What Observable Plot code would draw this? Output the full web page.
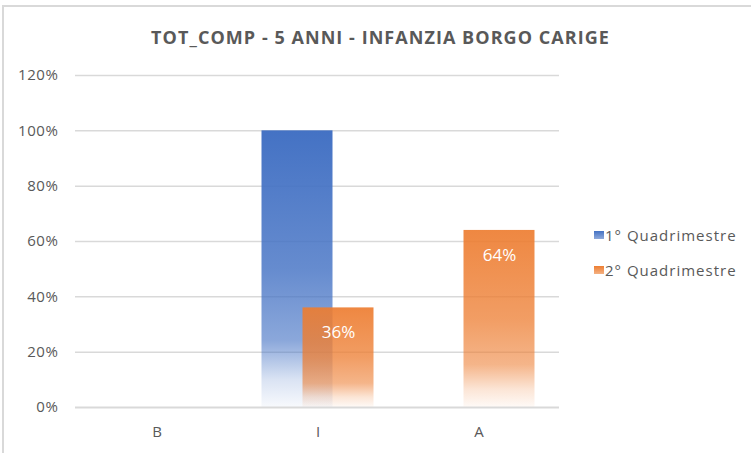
<!DOCTYPE html>
<html>
<head>
<meta charset="utf-8">
<script src="https://cdn.jsdelivr.net/npm/d3@7"></script>
<script src="https://cdn.jsdelivr.net/npm/@observablehq/plot@0.6"></script>
<style>
  html, body { margin: 0; padding: 0; background: #fff; }
  #wrap { position: relative; width: 751px; height: 453px; overflow: hidden; font-family: "Open Sans", sans-serif; }
  #frame { position: absolute; left: 2px; top: 5px; width: 800px; height: 500px; border-left: 2px solid #d9d9d9; border-top: 2px solid #d9d9d9; box-sizing: border-box; }
  #title { position: absolute; left: 0; width: 761px; top: 25px; text-align: center; font-weight: bold; font-size: 18px; color: #595959; letter-spacing: 1.05px; }
  #chart { position: absolute; left: 0; top: 0; }
  #chart svg g[aria-label="y-axis tick label"] text { font-size: 15px; letter-spacing: 0.6px; }
  #chart svg g[aria-label="x-axis tick label"] text { font-size: 15px; }
  .leg { position: absolute; left: 594px; font-size: 15px; color: #595959; letter-spacing: 1px; display: flex; align-items: center; }
  .sw { width: 10px; height: 8px; margin-right: 1px; }
</style>
</head>
<body>
<div id="wrap">
  <div id="frame"></div>
  <div id="chart"></div>
  <div id="title">TOT_COMP - 5 ANNI - INFANZIA BORGO CARIGE</div>
  <div class="leg" id="leg1" style="top:225px"><div class="sw" style="background:linear-gradient(#4472C4,#8EA9DB)"></div><span id="l1"></span></div>
  <div class="leg" id="leg2" style="top:260px"><div class="sw" style="background:linear-gradient(#ED7D31,#F4B183)"></div><span id="l2"></span></div>
</div>
<script>
const categories = ["B", "I", "A"];
const seriesNames = ["1° Quadrimestre", "2° Quadrimestre"];
const q1Values = [0, 1.00, 0];
const q2Values = [0, 0.36, 0.64];
const yTicks = [0, 0.2, 0.4, 0.6, 0.8, 1.0, 1.2];

document.getElementById("l1").textContent = seriesNames[0];
document.getElementById("l2").textContent = seriesNames[1];

const d1 = categories.map((c, i) => ({cat: c, v: q1Values[i]})).filter(d => d.v > 0);
const d2 = categories.map((c, i) => ({cat: c, v: q2Values[i]})).filter(d => d.v > 0);

const pct = d => Math.round(d * 100) + "%";

const plot = Plot.plot({
  width: 751,
  height: 453,
  marginLeft: 75,
  marginRight: 192,
  marginTop: 75,
  marginBottom: 46,
  style: {fontFamily: "Open Sans, sans-serif", color: "#595959", background: "transparent"},
  x: {domain: categories, padding: 0, label: null},
  y: {domain: [0, 1.2], label: null},
  marks: [
    Plot.ruleY(yTicks.filter(t => t > 0), {stroke: "#d9d9d9", strokeWidth: 1.5}),
    Plot.axisY(yTicks, {tickSize: 0, tickPadding: 17, tickFormat: pct, fill: "#595959", label: null}),
    Plot.axisX({tickSize: 0, tickPadding: 19, fill: "#595959", label: null}),
    Plot.barY(d1, {x: "cat", y: "v", fill: "url(#gBlue)", insetLeft: 45, insetRight: 45, dx: -20.5}),
    Plot.barY(d2, {x: "cat", y: "v", fill: "url(#gOrange)", insetLeft: 45, insetRight: 45, dx: 20.5}),
    Plot.ruleY([0], {stroke: "#d9d9d9", strokeWidth: 2}),
    Plot.text(d2, {x: "cat", y: "v", text: d => pct(d.v), fill: "white", fontSize: 17, dx: 20.5, dy: 25, fontFamily: "Open Sans, sans-serif"})
  ]
});

const ns = "http://www.w3.org/2000/svg";
const defs = document.createElementNS(ns, "defs");
function grad(id, color, topOp) {
  const g = document.createElementNS(ns, "linearGradient");
  g.setAttribute("id", id);
  g.setAttribute("x1", "0"); g.setAttribute("y1", "0");
  g.setAttribute("x2", "0"); g.setAttribute("y2", "1");
  const stops = [[0, topOp], [0.5, topOp * 0.82], [0.76, topOp * 0.62], [0.9, 0.2], [1, 0.04]];
  for (const [o, op] of stops) {
    const s = document.createElementNS(ns, "stop");
    s.setAttribute("offset", o);
    s.setAttribute("stop-color", color);
    s.setAttribute("stop-opacity", op);
    g.appendChild(s);
  }
  defs.appendChild(g);
}
grad("gBlue", "#4472C4", 1);
grad("gOrange", "#ED7D31", 0.92);
plot.insertBefore(defs, plot.firstChild);
document.getElementById("chart").appendChild(plot);
</script>
</body>
</html>
